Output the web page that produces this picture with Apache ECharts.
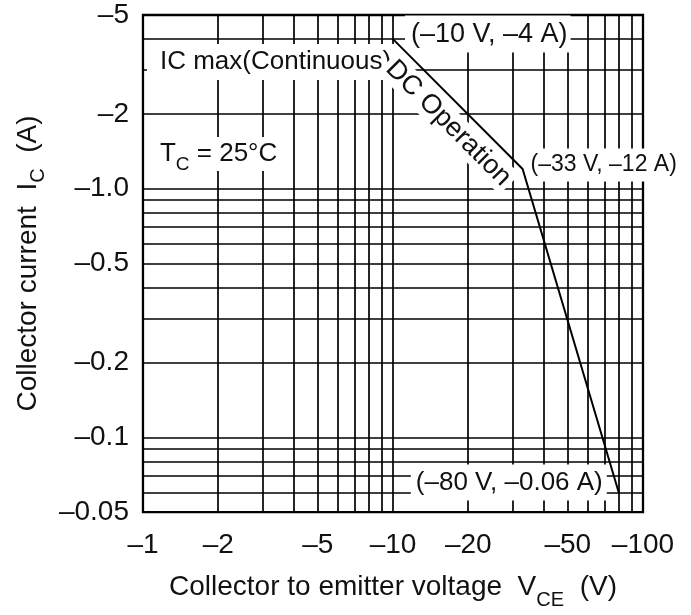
<!DOCTYPE html>
<html>
<head>
<meta charset="utf-8">
<script src="https://cdn.jsdelivr.net/npm/echarts@6/dist/echarts.min.js"></script>
<style>
html,body{margin:0;padding:0;background:#fff;}
#chart{width:691px;height:615px;}
</style>
</head>
<body>
<div id="chart"></div>
<script>
// ---- data (values as printed on the chart, negative polarity) ----
const vce = [-10, -33, -80];            // V
const ic = [-4, -1.2, -0.06];           // A
const xTickValues = [-1, -2, -5, -10, -20, -50, -100];
const xTickLabels = ['–1', '–2', '–5', '–10', '–20', '–50', '–100'];
const yTickValues = [-0.05, -0.1, -0.2, -0.5, -1, -2, -5];
const yTickLabels = ['–0.05', '–0.1', '–0.2', '–0.5', '–1.0', '–2', '–5'];
const xGridValues = [-1, -2, -3, -4, -5, -6, -7, -8, -9, -10, -20, -30, -40, -50, -60, -70, -80, -90, -100];
const yGridValues = [-0.05, -0.06, -0.07, -0.08, -0.09, -0.1, -0.2, -0.3, -0.4, -0.5, -0.6, -0.7, -0.8, -0.9, -1, -2, -3, -4, -5];
const xRange = [-1, -100];
const yRange = [-0.05, -5];

const FONT = 'Liberation Sans, Arial, Helvetica, sans-serif';
const TXT = '#111';

function lookup(vals, labels, v) {
  for (let i = 0; i < vals.length; i++) {
    const a = Math.abs(vals[i]);
    if (Math.abs(a - v) < a * 1e-6) return labels[i];
  }
  return '';
}

const chart = echarts.init(document.getElementById('chart'), null, {renderer: 'canvas'});

const option = {
  animation: false,
  backgroundColor: '#fff',
  grid: {left: 123, top: 15, width: 520, height: 507, show: true, borderColor: '#000', borderWidth: 2.3, backgroundColor: 'transparent'},
  xAxis: {
    type: 'log', logBase: 10,
    min: Math.abs(xRange[0]), max: Math.abs(xRange[1]),
    axisLine: {show: false},
    axisTick: {show: false, customValues: xGridValues.map(Math.abs)},
    splitLine: {show: true, lineStyle: {color: '#000', width: 1.7}},
    axisLabel: {
      customValues: xTickValues.map(Math.abs),
      formatter: v => lookup(xTickValues, xTickLabels, v),
      fontSize: 28, fontFamily: FONT, color: TXT, margin: 19
    },
    name: 'Collector to emitter voltage  V{s|CE}  (V)',
    nameLocation: 'middle', nameGap: 49,
    nameTextStyle: {fontSize: 28, fontFamily: FONT, color: TXT,
      rich: {s: {fontSize: 20, fontFamily: FONT, color: TXT, lineHeight: 20, padding: [26, 0, 0, 0]}}}
  },
  yAxis: {
    type: 'log', logBase: 10,
    min: Math.abs(yRange[0]), max: Math.abs(yRange[1]),
    axisLine: {show: false},
    axisTick: {show: false, customValues: yGridValues.map(Math.abs)},
    splitLine: {show: true, lineStyle: {color: '#000', width: 1.7}},
    axisLabel: {
      customValues: yTickValues.map(Math.abs),
      formatter: v => lookup(yTickValues, yTickLabels, v),
      fontSize: 28, fontFamily: FONT, color: TXT, margin: 14
    },
    name: 'Collector current  I{s|C}  (A)',
    nameLocation: 'middle', nameGap: 77, nameRotate: 90,
    nameTextStyle: {fontSize: 28, fontFamily: FONT, color: TXT,
      rich: {s: {fontSize: 20, fontFamily: FONT, color: TXT, lineHeight: 20, padding: [20, 0, 0, 0]}}}
  },
  series: [{
    type: 'line', z: 5,
    data: vce.map((v, i) => [Math.abs(v), Math.abs(ic[i])]),
    symbol: 'none',
    lineStyle: {color: '#000', width: 2},
    silent: true
  }]
};
chart.setOption(option);

// ---- annotations anchored to data coordinates ----
function px(x, y) { return chart.convertToPixel({gridIndex: 0}, [x, y]); }
const box = (x, y, text, extra) => ({
  type: 'text', z: 1, silent: true, x: x, y: y,
  style: Object.assign({text: text, fontSize: 26, fontFamily: FONT, fill: TXT,
    backgroundColor: '#fff', verticalAlign: 'middle', align: 'left'}, extra || {})
});

const pTL = px(Math.abs(xRange[0]), Math.abs(yRange[1]));
const p1 = px(Math.abs(vce[0]), Math.abs(ic[0]));
const p2 = px(Math.abs(vce[1]), Math.abs(ic[1]));
const p3 = px(Math.abs(vce[2]), Math.abs(ic[2]));
const pm = px(Math.sqrt(Math.abs(vce[0] * vce[1])), Math.sqrt(Math.abs(ic[0] * ic[1])));
const ang = Math.atan2(p2[1] - p1[1], p2[0] - p1[0]);

const elements = [
  box(pTL[0] + 4, pTL[1] + 47, 'IC max(Continuous)', {padding: [5, 6, 5, 13]}),
  box(pTL[0] + 7, pTL[1] + 139, 'T{s|C} = 25°C', {padding: [4, 10, 4, 10],
    rich: {s: {fontSize: 19, fontFamily: FONT, fill: TXT, lineHeight: 19, padding: [22, 0, 0, 0]}}}),
  box(p1[0] + 12, p1[1] - 5, '(–10 V, –4 A)', {padding: [5, 3, 5, 6], fontSize: 27}),
  box(p2[0] + 4, p2[1] - 4, '(–33 V, –12 A)', {padding: [5, 6, 5, 4], fontSize: 23}),
  box(p3[0] - 12, p3[1] - 10, '(–80 V, –0.06 A)', {padding: [5, 4, 5, 5], align: 'right'}),
  {type: 'text', z: 1, silent: true,
   x: pm[0] - 9.4, y: pm[1] + 19.2, rotation: -ang,
   style: {text: 'DC Operation', fontSize: 27, fontFamily: FONT, fill: TXT,
     backgroundColor: '#fff', padding: [1, 4, 1, 4], align: 'center', verticalAlign: 'middle'}}
];
chart.setOption({graphic: {elements: elements}});
</script>
</body>
</html>
